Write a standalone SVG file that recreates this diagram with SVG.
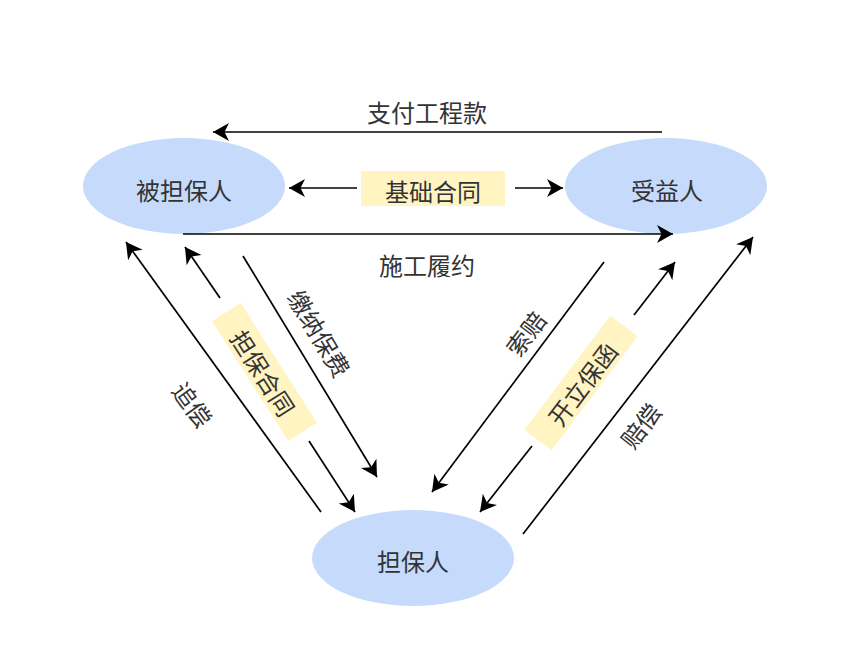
<svg xmlns="http://www.w3.org/2000/svg" width="855" height="665" viewBox="0 0 855 665">
<style>
.node{fill:#C6DAFB;stroke:none}
.t{font-family:"Noto Sans CJK SC","Noto Sans",sans-serif;font-size:24px;fill:#333333;text-anchor:middle;dominant-baseline:central}
.ln{stroke:#000;stroke-width:1.7;fill:none;marker-end:url(#ah)}
.box{fill:#FFF4C2;stroke:none}
</style>
<defs>
<marker id="ah" markerUnits="userSpaceOnUse" viewBox="-17 -10 18 20" markerWidth="18" markerHeight="20" refX="0" refY="0" orient="auto">
<path d="M0,0 L-16,-9 L-11.5,0 L-16,9 Z" fill="#000"/>
</marker>
</defs>
<rect width="855" height="665" fill="#fff"/>
<g id="node-beidanbaoren"><ellipse class="node" cx="184" cy="186" rx="101" ry="48"/><text class="t" x="184" y="189">被担保人</text></g>
<g id="node-shouyiren"><ellipse class="node" cx="666" cy="186" rx="101" ry="48"/><text class="t" x="667" y="189">受益人</text></g>
<g id="node-danbaoren"><ellipse class="node" cx="413" cy="558" rx="101" ry="48"/><text class="t" x="413" y="560">担保人</text></g>
<g id="connectors">
<line class="ln" x1="662" y1="132" x2="213" y2="132"/>
<line class="ln" x1="357" y1="188" x2="289" y2="188"/>
<line class="ln" x1="515" y1="188" x2="563" y2="188"/>
<line class="ln" x1="183" y1="234" x2="673" y2="234"/>
<line class="ln" x1="321" y1="512" x2="126" y2="242"/>
<line class="ln" x1="220" y1="298" x2="185" y2="247"/>
<line class="ln" x1="309" y1="441" x2="355" y2="512"/>
<line class="ln" x1="243" y1="256" x2="377" y2="477"/>
<line class="ln" x1="604" y1="262" x2="432" y2="492"/>
<line class="ln" x1="634" y1="315" x2="675" y2="262"/>
<line class="ln" x1="532" y1="446" x2="480" y2="512"/>
<line class="ln" x1="523" y1="534" x2="753" y2="237"/>
</g>
<g id="labels">
<text class="t" x="427" y="111">支付工程款</text>
<rect class="box" x="361" y="171" width="144" height="35"/>
<text class="t" x="433" y="190">基础合同</text>
<text class="t" x="427" y="264">施工履约</text>
<text class="t" transform="translate(193,404) rotate(54)">追偿</text>
<g transform="translate(264.5,372) rotate(57.5)"><rect class="box" x="-71" y="-17" width="142" height="34"/><text class="t" x="0" y="1">担保合同</text></g>
<text class="t" transform="translate(320,333) rotate(59)">缴纳保费</text>
<text class="t" transform="translate(525,333) rotate(-53)">索赔</text>
<g transform="translate(581,383) rotate(-53)"><rect class="box" x="-71.5" y="-17" width="143" height="34"/><text class="t" x="0" y="1">开立保函</text></g>
<text class="t" transform="translate(640,425) rotate(-52)">赔偿</text>
</g>
</svg>
